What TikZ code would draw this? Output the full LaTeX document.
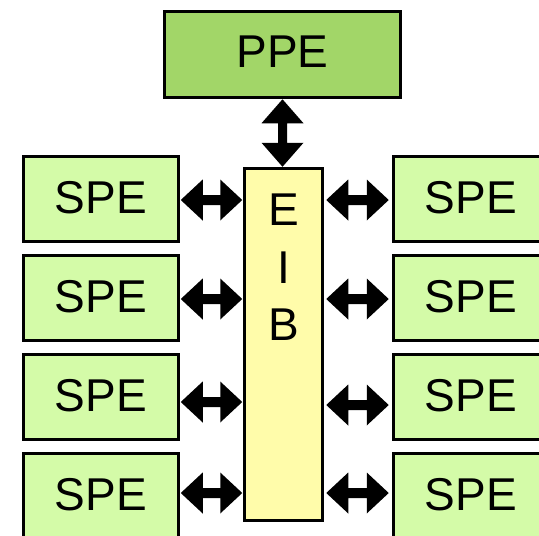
\documentclass[tikz,border=0pt]{standalone}
\usepackage{fontspec}
\setmainfont{Liberation Sans}
\usetikzlibrary{calc}
\definecolor{ppeg}{RGB}{162,214,104}
\definecolor{speg}{RGB}{212,251,168}
\definecolor{eiby}{RGB}{255,252,170}
\begin{document}
\begin{tikzpicture}[x=1pt,y=-1pt,
  box/.style={draw=black, line width=3pt, outer sep=0pt, inner sep=0pt},
  spebox/.style={box, fill=speg, minimum width=155.5pt, minimum height=85.5pt},
  lbl/.style={font=\fontsize{46}{50}\selectfont, inner sep=0pt, anchor=base},
  hlink/.style={fill=black, to path={let \p1=(\tikztostart), \p2=(\tikztotarget) in
    (\x1,\y1) -- (\x1+22pt,\y1+20.5pt) -- (\x1+22pt,\y1+5pt) -- (\x2-22pt,\y1+5pt)
    -- (\x2-22pt,\y1+20.5pt) -- (\x2,\y1) -- (\x2-22pt,\y1-20.5pt) -- (\x2-22pt,\y1-5pt)
    -- (\x1+22pt,\y1-5pt) -- (\x1+22pt,\y1-20.5pt) -- cycle}},
  vlink/.style={fill=black, to path={let \p1=(\tikztostart), \p2=(\tikztotarget) in
    (\x1,\y1) -- (\x1+21pt,\y1-24pt) -- (\x1+4.5pt,\y1-24pt) -- (\x1+4.5pt,\y2+24pt)
    -- (\x1+21pt,\y2+24pt) -- (\x1,\y2) -- (\x1-21pt,\y2+24pt) -- (\x1-4.5pt,\y2+24pt)
    -- (\x1-4.5pt,\y1-24pt) -- (\x1-21pt,\y1-24pt) -- cycle}}
]
\useasboundingbox (0,0) rectangle (539,536);
\clip (0,0) rectangle (539,536);
% boxes
\node[box, fill=ppeg, minimum width=236.5pt, minimum height=86.5pt] (ppe) at (282.5,54.5) {};
\node[lbl] (ppet) at (282.5,67) {PPE};
\node[box, fill=eiby, minimum width=78.5pt, minimum height=352.5pt] (eib) at (283.5,344.5) {};
\node[lbl] (eibe) at (284,225) {E};
\node[lbl] (eibi) at (283.5,283) {I};
\node[lbl] (eibb) at (284,340) {B};
% left SPEs
\node[spebox] (l1) at (101,199) {};
\node[spebox] (l2) at (101,298) {};
\node[spebox] (l3) at (101,397) {};
\node[spebox] (l4) at (101,496) {};
% right SPEs
\node[spebox] (r1) at (471,199) {};
\node[spebox] (r2) at (471,298) {};
\node[spebox] (r3) at (471,397) {};
\node[spebox] (r4) at (471,496) {};
% labels
\foreach \n/\x/\y in {l1/101/213, l2/101/312, l3/101/411, l4/101/510,
                      r1/471/213, r2/471/312, r3/471/411, r4/471/510}
  \node[lbl] (\n t) at (\x,\y) {SPE};
% connectors
\path[vlink] ([yshift=-1.5pt]ppe.south) to ([yshift=1.5pt]eib.north);
\path[hlink] ([xshift=2pt,yshift=-1pt]l1.east) to ($(eib.west |- l1.east)+(-2pt,-1pt)$);
\path[hlink] ([xshift=2pt,yshift=-1pt]l2.east) to ($(eib.west |- l2.east)+(-2pt,-1pt)$);
\path[hlink] ([xshift=2pt,yshift=-5pt]l3.east) to ($(eib.west |- l3.east)+(-2pt,-5pt)$);
\path[hlink] ([xshift=2pt,yshift=3pt]l4.east) to ($(eib.west |- l4.east)+(-2pt,3pt)$);
\path[hlink] ($(eib.east |- r1.west)+(3.5pt,-1pt)$) to ([xshift=-4.5pt,yshift=-1pt]r1.west);
\path[hlink] ($(eib.east |- r2.west)+(3.5pt,-1pt)$) to ([xshift=-4.5pt,yshift=-1pt]r2.west);
\path[hlink] ($(eib.east |- r3.west)+(3.5pt,-8pt)$) to ([xshift=-4.5pt,yshift=-8pt]r3.west);
\path[hlink] ($(eib.east |- r4.west)+(3.5pt,3pt)$) to ([xshift=-4.5pt,yshift=3pt]r4.west);
\end{tikzpicture}
\end{document}
